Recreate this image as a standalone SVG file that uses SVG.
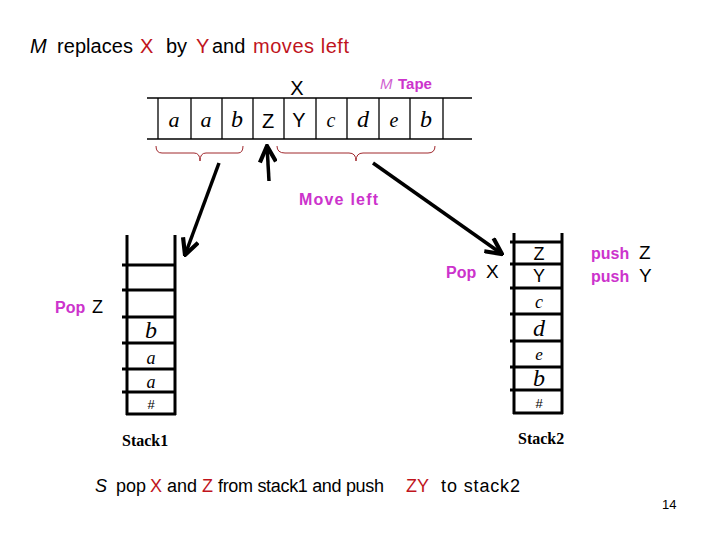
<svg xmlns="http://www.w3.org/2000/svg" width="720" height="540" viewBox="0 0 720 540">
<style>
.t{font-family:"Liberation Sans",Arial,sans-serif;}
.blk{fill:#000;}
.red{fill:#C0141C;}
.mag{fill:#CC33CC;font-weight:bold;}
.it{font-family:"Liberation Serif","Times New Roman",serif;font-style:italic;fill:#000;text-anchor:middle;}
.sans{font-family:"Liberation Sans",Arial,sans-serif;fill:#000;text-anchor:middle;}
.ln{stroke:#000;stroke-width:1.3;fill:none;}
.sk{stroke:#000;stroke-width:3;fill:none;}
.brace{stroke:#A0282D;stroke-width:1;fill:none;}
.arr{stroke:#000;stroke-width:3.5;fill:none;}
.lbl{font-family:"Liberation Serif","Times New Roman",serif;font-weight:bold;font-size:16px;fill:#000;}
</style>
<defs>
<marker id="ah" viewBox="0 0 12 12" refX="11" refY="6" markerWidth="5.5" markerHeight="5.5" orient="auto">
<path d="M1,1 L11,6 L1,11" stroke="#000" stroke-width="2.6" fill="none"/>
</marker>
</defs>
<rect width="720" height="540" fill="#fff"/>

<g id="title" class="t" font-size="20">
<text x="30" y="53"><tspan font-style="italic" class="blk">M</tspan><tspan x="57" class="blk" textLength="76">replaces</tspan><tspan x="140" class="red">X</tspan><tspan x="166" class="blk">by</tspan><tspan x="196" class="red">Y</tspan><tspan x="212" class="blk">and</tspan><tspan x="253" class="red" textLength="96">moves left</tspan></text>
</g>

<g id="tape">
<text x="297" y="95" class="sans" font-size="20">X</text>
<text x="380" y="89" class="t" font-size="15"><tspan fill="#D060D0" font-style="italic">M</tspan><tspan x="398" class="mag" font-size="15">Tape</tspan></text>
<line class="ln" x1="147" y1="98" x2="472" y2="98"/>
<line class="ln" x1="147" y1="139" x2="472" y2="139"/>
<line class="ln" x1="158" y1="98" x2="158" y2="139"/>
<line class="ln" x1="191" y1="98" x2="191" y2="139"/>
<line class="ln" x1="222" y1="98" x2="222" y2="139"/>
<line class="ln" x1="253" y1="98" x2="253" y2="139"/>
<line class="ln" x1="284" y1="98" x2="284" y2="139"/>
<line class="ln" x1="316" y1="98" x2="316" y2="139"/>
<line class="ln" x1="347" y1="98" x2="347" y2="139"/>
<line class="ln" x1="379" y1="98" x2="379" y2="139"/>
<line class="ln" x1="410" y1="98" x2="410" y2="139"/>
<line class="ln" x1="443" y1="98" x2="443" y2="139"/>
<text x="174" y="127" class="it" font-size="22">a</text>
<text x="206" y="127" class="it" font-size="22">a</text>
<text x="237" y="127" class="it" font-size="24">b</text>
<text x="268" y="128" class="sans" font-size="20">Z</text>
<text x="299" y="127" class="sans" font-size="20">Y</text>
<text x="331" y="127" class="it" font-size="20">c</text>
<text x="363" y="127" class="it" font-size="24">d</text>
<text x="394" y="127" class="it" font-size="20">e</text>
<text x="426" y="127" class="it" font-size="24">b</text>
</g>

<g id="braces">
<path class="brace" d="M156,146 Q156,153 162,153 L194,153 Q200,153 200,161 Q200,153 206,153 L238,153 Q243,153 243,146"/>
<path class="brace" d="M277,146 Q277,153 285,153 L349,153 Q356,153 356,161 Q356,153 363,153 L428,153 Q435,153 435,146"/>
</g>

<g id="move-left">
<text x="299" y="205" class="t mag" font-size="16" textLength="79">Move left</text>
</g>

<g id="stack1">
<line class="sk" x1="127" y1="235" x2="127" y2="415"/>
<line class="sk" x1="175" y1="235" x2="175" y2="415"/>
<line class="sk" x1="122" y1="265" x2="176" y2="265"/>
<line class="sk" x1="122" y1="290" x2="176" y2="290"/>
<line class="sk" x1="122" y1="317" x2="176" y2="317"/>
<line class="sk" x1="122" y1="343" x2="176" y2="343"/>
<line class="sk" x1="122" y1="369" x2="176" y2="369"/>
<line class="sk" x1="122" y1="392" x2="176" y2="392"/>
<line class="sk" x1="126" y1="414" x2="176" y2="414"/>
<text x="151" y="338" class="it" font-size="24">b</text>
<text x="151" y="364" class="it" font-size="18">a</text>
<text x="151" y="388" class="it" font-size="18">a</text>
<text x="151" y="409" class="sans" font-family="Liberation Serif" font-size="13">#</text>
<text x="122" y="446" class="lbl">Stack1</text>
<text x="55" y="313" class="t" font-size="16"><tspan class="mag">Pop</tspan><tspan x="92" class="blk" font-size="18">Z</tspan></text>
</g>

<g id="stack2">
<line class="sk" x1="514" y1="233" x2="514" y2="414"/>
<line class="sk" x1="562" y1="233" x2="562" y2="414"/>
<line class="sk" x1="510" y1="242" x2="563" y2="242"/>
<line class="sk" x1="510" y1="264" x2="563" y2="264"/>
<line class="sk" x1="510" y1="288" x2="563" y2="288"/>
<line class="sk" x1="510" y1="314" x2="563" y2="314"/>
<line class="sk" x1="510" y1="341" x2="563" y2="341"/>
<line class="sk" x1="510" y1="367" x2="563" y2="367"/>
<line class="sk" x1="510" y1="390" x2="563" y2="390"/>
<line class="sk" x1="513" y1="413" x2="563" y2="413"/>
<text x="539" y="260" class="sans" font-size="18">Z</text>
<text x="539" y="282" class="sans" font-size="18">Y</text>
<text x="539" y="308" class="it" font-size="18">c</text>
<text x="539" y="336" class="it" font-size="24">d</text>
<text x="539" y="360" class="it" font-size="17">e</text>
<text x="539" y="386" class="it" font-size="24">b</text>
<text x="539" y="408" class="sans" font-family="Liberation Serif" font-size="13">#</text>
<text x="518" y="444" class="lbl">Stack2</text>
<text x="446" y="278" class="t" font-size="16"><tspan class="mag">Pop</tspan><tspan x="486" class="blk" font-size="19">X</tspan></text>
<text x="591" y="259" class="t" font-size="16"><tspan class="mag">push</tspan><tspan x="639" class="blk" font-size="19">Z</tspan></text>
<text x="591" y="282" class="t" font-size="16"><tspan class="mag">push</tspan><tspan x="639" class="blk" font-size="19">Y</tspan></text>
</g>

<g id="connectors">
<line class="arr" x1="269" y1="181" x2="267" y2="146" marker-end="url(#ah)"/>
<line class="arr" x1="219" y1="163" x2="185" y2="255" marker-end="url(#ah)"/>
<line class="arr" x1="373" y1="163" x2="502" y2="254" marker-end="url(#ah)"/>
</g>

<g id="caption" class="t" font-size="18">
<text x="95" y="492"><tspan font-style="italic" class="blk">S</tspan><tspan x="116" class="blk">pop</tspan><tspan x="150" class="red">X</tspan><tspan x="167" class="blk">and</tspan><tspan x="202" class="red">Z</tspan><tspan x="218" class="blk" textLength="166">from stack1 and push</tspan><tspan x="406" class="red">ZY</tspan><tspan x="441" class="blk" textLength="79">to stack2</tspan></text>
</g>

<text x="662" y="509" class="t" font-size="13" fill="#000">14</text>
</svg>
